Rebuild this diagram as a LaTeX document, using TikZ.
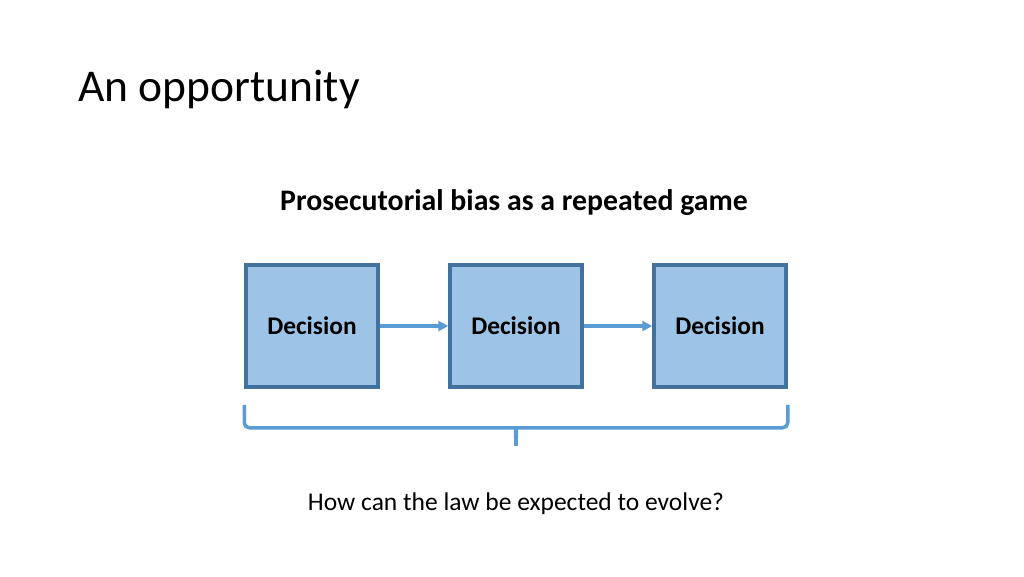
\documentclass[tikz,border=0pt]{standalone}
\usepackage{fontspec}
\setmainfont{Carlito}
\usepackage{xcolor}
\usetikzlibrary{arrows.meta,calc}
\definecolor{boxfill}{HTML}{9DC3E6}
\definecolor{boxline}{HTML}{41719C}
\definecolor{linkblue}{HTML}{5B9BD5}
\tikzset{
  decision/.style={draw=boxline, fill=boxfill, line width=3.5pt,
    minimum width=132pt, minimum height=122pt, inner sep=0pt,
    font=\bfseries\fontsize{25.4}{30}\selectfont},
  link/.style={linkblue, line width=3.5pt, -{Triangle[length=10pt,width=10pt]}},
  bracket/.style={linkblue, line width=3.5pt, rounded corners=5pt}
}

\begin{document}
\begin{tikzpicture}[x=1pt,y=-1pt]
\fill[white] (0,0) rectangle (1024,576);
\useasboundingbox (0,0) rectangle (1024,576);
\node[anchor=base west, inner sep=0pt, font=\fontsize{45.5}{54}\selectfont] (title) at (78,101) {An opportunity};
\node[anchor=base, inner sep=0pt, font=\bfseries\fontsize{29.8}{36}\selectfont] (game) at (514,210) {Prosecutorial bias as a repeated game};
%three boxes
\foreach \i/\x in {1/312,2/516,3/720}
    \node[decision] (d\i) at (\x,326) {Decision};
\draw[link] (d1) -- (d2);
\draw[link] (d2) -- (d3);
%bracket under the boxes
\coordinate (bl) at ($(d1.south west)+(0,16)$);
\coordinate (br) at ($(d3.south east)+(0,16)$);
\coordinate (tip) at ($(d2.south)+(0,57)$);
\draw[bracket] (bl) |- ($(tip)+(-6,-18)$) to[out=0,in=90] (tip);
\draw[bracket] (br) |- ($(tip)+(6,-18)$) to[out=180,in=90] (tip);
\node[anchor=base, inner sep=0pt, font=\fontsize{25.5}{30}\selectfont] (law) at (516,510) {How can the law be expected to evolve?};
\end{tikzpicture}
\end{document}
